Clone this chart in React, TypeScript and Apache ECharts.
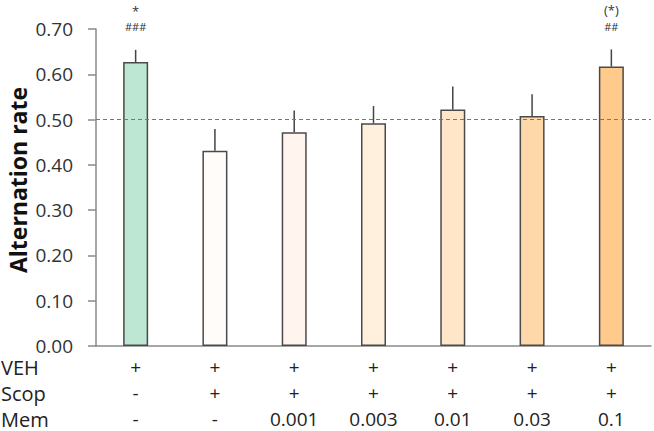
import React, { useEffect, useRef } from "react";
import * as echarts from "echarts";

const categories = ["g1", "g2", "g3", "g4", "g5", "g6", "g7"];
const vehRow = ["+", "+", "+", "+", "+", "+", "+"];
const scopRow = ["-", "+", "+", "+", "+", "+", "+"];
const memRow = ["-", "-", "0.001", "0.003", "0.01", "0.03", "0.1"];
const rowNames = ["VEH", "Scop", "Mem"];
const means = [0.627, 0.431, 0.472, 0.492, 0.522, 0.508, 0.617];
const errors = [0.027, 0.048, 0.048, 0.038, 0.051, 0.048, 0.038];
const annotations = [["*", "###"], [], [], [], [], [], ["(*)", "##"]];
const barColors = ["#bde6d3", "#fffcf9", "#fff5ee", "#fff0de", "#ffe6c8", "#fed8a9", "#ffca8c"];
const yTicks = [0, 0.1, 0.2, 0.3, 0.4, 0.5, 0.6, 0.7];

const FONT = "'Open Sans', 'Noto Sans', sans-serif";

export default function App() {
  const ref = useRef<HTMLDivElement>(null);
  useEffect(() => {
    if (!ref.current) return;
    const chart = echarts.init(ref.current, undefined, { renderer: "svg" });
    chart.setOption({
      animation: false,
      textStyle: { fontFamily: FONT },
      grid: { left: 96, right: 3, top: 29, bottom: 85, outerBoundsMode: "none", containLabel: false },
      xAxis: {
        type: "category",
        data: categories,
        axisLine: { lineStyle: { color: "#8a8a8a", width: 1.5 } },
        axisTick: { show: false },
        axisLabel: {
          interval: 0,
          margin: 8,
          fontSize: 19,
          lineHeight: 26,
          color: "#222",
          fontFamily: FONT,
          formatter: (_v: string, i: number) => `${vehRow[i]}\n${scopRow[i]}\n${memRow[i]}`,
        },
      },
      yAxis: {
        type: "value",
        min: yTicks[0],
        max: yTicks[yTicks.length - 1],
        interval: 0.1,
        axisLine: { show: true, lineStyle: { color: "#8a8a8a", width: 1.5 } },
        axisTick: { show: true, length: 8, lineStyle: { color: "#8a8a8a", width: 1.5 } },
        splitLine: { show: false },
        axisLabel: {
          margin: 23,
          fontSize: 19,
          color: "#333",
          fontFamily: FONT,
          formatter: (v: number) => v.toFixed(2),
        },
      },
      graphic: [
        {
          type: "text",
          x: 18,
          y: 180,
          rotation: Math.PI / 2,
          style: {
            text: "Alternation rate",
            fontSize: 23,
            fontWeight: "bold",
            fill: "#111",
            fontFamily: FONT,
            textAlign: "center",
            textVerticalAlign: "middle",
          },
        },
        ...rowNames.map((n, i) => ({
          type: "text",
          x: 1,
          y: 367 + i * 26,
          style: {
            text: n,
            fontSize: 20,
            lineHeight: 20,
            fill: "#222",
            fontFamily: FONT,
            textAlign: "left",
            textVerticalAlign: "middle",
          },
        })),
      ],
      series: [
        {
          type: "bar",
          barWidth: 25,
          data: means.map((v, i) => ({
            value: v,
            itemStyle: { color: barColors[i], borderColor: "#4a4a4a", borderWidth: 1.5 },
          })),
          markLine: {
            silent: true,
            symbol: "none",
            label: { show: false },
            lineStyle: { color: "#777", type: [4, 3], width: 1 },
            data: [{ yAxis: 0.5 }],
          },
          z: 2,
        },
        {
          type: "custom",
          z: 3,
          data: means.map((v, i) => [i, v, v + errors[i]]),
          renderItem: (params: any, api: any) => {
            const idx = api.value(0);
            const p0 = api.coord([idx, api.value(1)]);
            const p1 = api.coord([idx, api.value(2)]);
            const children: any[] = [
              {
                type: "line",
                shape: { x1: p0[0], y1: p0[1], x2: p1[0], y2: p1[1] },
                style: { stroke: "#444", lineWidth: 1.5 },
              },
            ];
            const ann = annotations[params.dataIndex] || [];
            ann.forEach((t, k) => {
              const fs = k === 0 ? 13 : 11;
              children.push({
                type: "text",
                style: {
                  text: t,
                  x: p1[0],
                  y: p1[1] - 39 + k * 16,
                  textAlign: "center",
                  textVerticalAlign: "middle",
                  fontSize: fs,
                  lineHeight: fs,
                  fill: "#333",
                  fontFamily: FONT,
                },
              });
            });
            return { type: "group", children };
          },
        },
      ],
    });
    return () => chart.dispose();
  }, []);
  return (
    <div
      ref={ref}
      style={{ position: "fixed", left: 0, top: 0, width: 654, height: 431, background: "#fff" }}
    />
  );
}
